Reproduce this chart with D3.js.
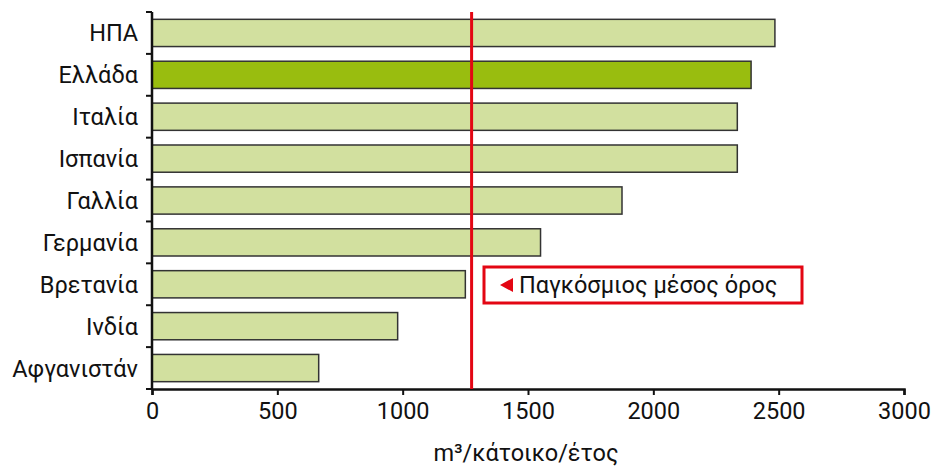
<!DOCTYPE html>
<html><head><meta charset="utf-8">
<script src="https://cdn.jsdelivr.net/npm/d3@7"></script>
<style>body{margin:0;background:#fff}svg{display:block}text{font-family:Roboto,"Noto Sans",sans-serif;fill:#111}</style>
</head><body><div id="c"></div>
<script>
const categories = ["ΗΠΑ","Ελλάδα","Ιταλία","Ισπανία","Γαλλία","Γερμανία","Βρετανία","Ινδία","Αφγανιστάν"];
const values = [2485, 2390, 2335, 2335, 1875, 1550, 1250, 980, 665];
const highlight = ["Ελλάδα"];
const worldAverage = 1275;
const xTicks = [0, 500, 1000, 1500, 2000, 2500, 3000];
const legendLabel = "Παγκόσμιος μέσος όρος";
const xTitle = "m³/κάτοικο/έτος";

const W = 940, H = 467;
const FS = 23.5;
const m = {left:152, right:36, top:12, bottom:78};
const svg = d3.select("#c").append("svg").attr("width", W).attr("height", H);
const x = d3.scaleLinear().domain([0,3000]).range([m.left, W - m.right]);
const y = d3.scaleBand().domain(categories).range([m.top, H - m.bottom]).paddingInner(0.35).paddingOuter(0.175);

const red = "#e30613";

svg.append("g").selectAll("rect").data(categories).join("rect")
  .attr("x", x(0)).attr("y", d => y(d))
  .attr("width", (d,i) => x(values[i]) - x(0)).attr("height", y.bandwidth())
  .attr("fill", d => highlight.includes(d) ? "#99bd0f" : "#d2e09f")
  .attr("stroke", "#333").attr("stroke-width", 1.5);

// y axis
const yAxis = svg.append("g");
yAxis.append("line").attr("x1", x(0)).attr("x2", x(0)).attr("y1", m.top).attr("y2", H - m.bottom)
  .attr("stroke", "#111").attr("stroke-width", 2.5);
const bounds = d3.range(categories.length + 1).map(i => m.top + i * (H - m.top - m.bottom) / categories.length);
yAxis.selectAll("line.t").data(bounds).join("line").attr("class","t")
  .attr("x1", x(0) - 6).attr("x2", x(0)).attr("y1", d => d).attr("y2", d => d)
  .attr("stroke", "#111").attr("stroke-width", 2);
yAxis.selectAll("text").data(categories).join("text")
  .attr("x", x(0) - 14).attr("y", d => y(d) + y.bandwidth()/2).attr("dy", "0.36em")
  .attr("text-anchor", "end").attr("font-size", FS).text(d => d);

// x axis
const xa = svg.append("g").attr("transform", `translate(0,${H - m.bottom})`)
  .call(d3.axisBottom(x).tickValues(xTicks).tickSize(6).tickPadding(7).tickFormat(d3.format("d")));
xa.select(".domain").attr("stroke", "#111").attr("stroke-width", 2.5);
xa.selectAll(".tick line").attr("stroke", "#111").attr("stroke-width", 2);
xa.selectAll(".tick text").attr("font-size", FS).attr("fill", "#111").attr("font-family", "Roboto,'Noto Sans',sans-serif");

svg.append("text").attr("x", 526).attr("y", 461).attr("text-anchor", "middle").attr("font-size", FS).text(xTitle);

// world average line
svg.append("line").attr("x1", x(worldAverage)).attr("x2", x(worldAverage))
  .attr("y1", m.top).attr("y2", H - m.bottom).attr("stroke", red).attr("stroke-width", 3);

// legend box
const lg = svg.append("g");
lg.append("rect").attr("x", 484).attr("y", 267).attr("width", 318).attr("height", 36)
  .attr("fill", "#fff").attr("stroke", red).attr("stroke-width", 3);
lg.append("path").attr("d", "M500,285 L513,278 L513,292 Z").attr("fill", red);
lg.append("text").attr("x", 519).attr("y", 285).attr("dy", "0.36em").attr("font-size", FS).text(legendLabel);
</script></body></html>
